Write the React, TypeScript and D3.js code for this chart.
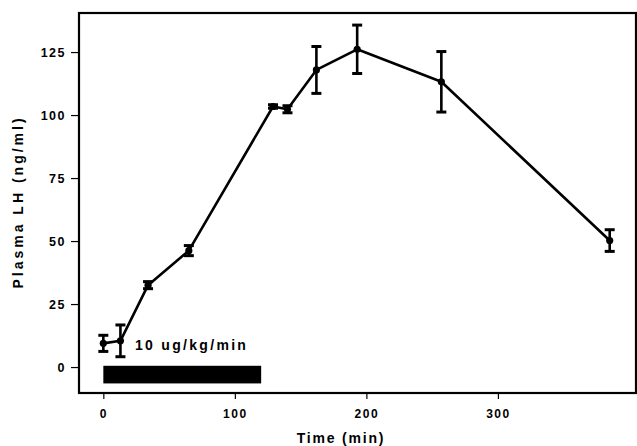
import { useRef, useEffect } from 'react';
import * as d3 from 'd3';

// values
const times = [0, 13, 34, 65, 129, 140, 162, 193, 257, 385];
const plasmaLH = [9.4, 10.4, 32.5, 46.2, 103.4, 102.3, 117.9, 126.1, 113.2, 50.2];
const sem = [3.2, 6.3, 1.4, 2.0, 0.7, 1.4, 9.3, 9.6, 12.0, 4.3];
const xTicks = [0, 100, 200, 300];
const yTicks = [0, 25, 50, 75, 100, 125];
const infusion = { start: 0, end: 120, top: 0.5, bottom: -6.5, label: '10 ug/kg/min' };

const W = 637;
const H = 446;
const FONT = 'Arial, "Liberation Sans", Helvetica, sans-serif';

const App = () => {
  const svgRef = useRef<SVGSVGElement>(null);

  useEffect(() => {
    const svg = d3.select(svgRef.current);
    svg.selectAll('*').remove();

    const x = d3.scaleLinear().domain([-18.5, 405]).range([79, 636]);
    const y = d3.scaleLinear().domain([-10.3, 140.5]).range([393, 13]);

    const data = times.map((t, i) => ({ t, v: plasmaLH[i], e: sem[i] }));

    // frame
    svg.append('rect')
      .attr('x', x(-18.5)).attr('y', y(140.5))
      .attr('width', x(405) - x(-18.5)).attr('height', y(-10.3) - y(140.5))
      .attr('fill', 'none').attr('stroke', '#000').attr('stroke-width', 2.2);

    // y axis
    const yAxis = svg.append('g')
      .attr('transform', `translate(${x(-18.5)},0)`)
      .call(d3.axisLeft(y).tickValues(yTicks).tickSize(8).tickPadding(5).tickSizeOuter(0));
    yAxis.select('.domain').remove();
    yAxis.selectAll('line').attr('stroke-width', 1.2);
    yAxis.selectAll('text')
      .attr('font-family', FONT).attr('font-weight', 'bold').attr('font-size', 12.5)
      .attr('letter-spacing', 1.5).attr('fill', '#000');

    // x axis
    const xAxis = svg.append('g')
      .attr('transform', `translate(0,${y(-10.3)})`)
      .call(d3.axisBottom(x).tickValues(xTicks).tickSize(6).tickPadding(10).tickSizeOuter(0));
    xAxis.select('.domain').remove();
    xAxis.selectAll('line').attr('stroke-width', 1.2);
    xAxis.selectAll('text')
      .attr('font-family', FONT).attr('font-weight', 'bold').attr('font-size', 12)
      .attr('letter-spacing', 1.5).attr('fill', '#000');

    // axis titles
    svg.append('text')
      .attr('x', 341).attr('y', 443)
      .attr('text-anchor', 'middle')
      .attr('font-family', FONT).attr('font-weight', 'bold').attr('font-size', 14)
      .attr('letter-spacing', 1.8)
      .text('Time (min)');

    svg.append('text')
      .attr('transform', 'translate(23,202) rotate(-90)')
      .attr('text-anchor', 'middle')
      .attr('font-family', FONT).attr('font-weight', 'bold').attr('font-size', 14)
      .attr('letter-spacing', 3)
      .text('Plasma LH (ng/ml)');

    // infusion bar
    svg.append('rect')
      .attr('x', x(infusion.start)).attr('y', y(infusion.top))
      .attr('width', x(infusion.end) - x(infusion.start))
      .attr('height', y(infusion.bottom) - y(infusion.top))
      .attr('fill', '#000');

    svg.append('text')
      .attr('x', 135).attr('y', 350)
      .attr('font-family', FONT).attr('font-weight', 'bold').attr('font-size', 14)
      .attr('letter-spacing', 2.3)
      .text(infusion.label);

    // line
    const line = d3.line<{ t: number; v: number }>()
      .x(d => x(d.t))
      .y(d => y(d.v));

    svg.append('path')
      .datum(data)
      .attr('d', line)
      .attr('fill', 'none')
      .attr('stroke', '#000')
      .attr('stroke-width', 2.6)
      .attr('stroke-linejoin', 'round');

    // error bars
    const eb = svg.append('g').attr('stroke', '#000');
    eb.selectAll('line.v')
      .data(data)
      .join('line')
      .attr('class', 'v')
      .attr('x1', d => x(d.t)).attr('x2', d => x(d.t))
      .attr('y1', d => y(d.v + d.e)).attr('y2', d => y(d.v - d.e))
      .attr('stroke-width', 2.6);
    eb.selectAll('line.cap')
      .data(data.flatMap(d => [{ t: d.t, v: d.v + d.e }, { t: d.t, v: d.v - d.e }]))
      .join('line')
      .attr('class', 'cap')
      .attr('x1', d => x(d.t) - 5).attr('x2', d => x(d.t) + 5)
      .attr('y1', d => y(d.v)).attr('y2', d => y(d.v))
      .attr('stroke-width', 3);

    // markers
    svg.append('g')
      .selectAll('circle')
      .data(data)
      .join('circle')
      .attr('cx', d => x(d.t))
      .attr('cy', d => y(d.v))
      .attr('r', 3.6)
      .attr('fill', '#000');
  }, []);

  return (
    <svg
      ref={svgRef}
      width={W}
      height={H}
      style={{ position: 'absolute', left: 0, top: 0, background: '#fff' }}
    />
  );
};

export default App;
